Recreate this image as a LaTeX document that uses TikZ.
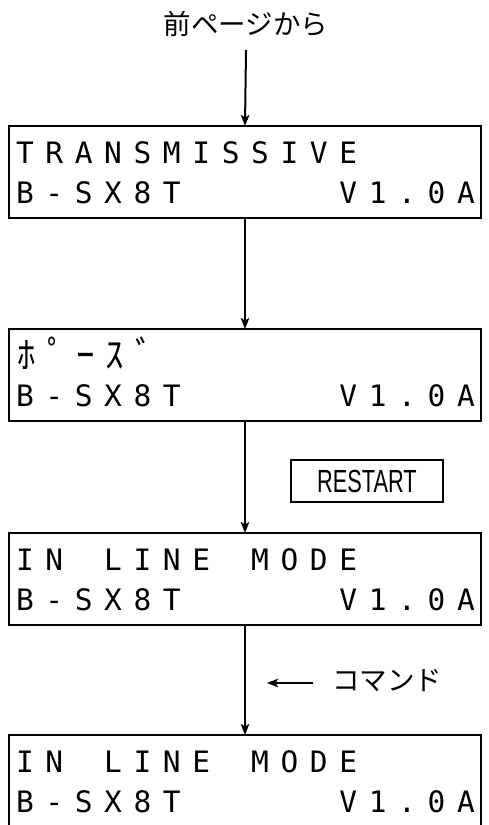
\documentclass[tikz,border=0pt]{standalone}
\usepackage{fontspec}
\newfontfamily\lcdfont{DejaVu Sans Mono}
\newfontfamily\jpfont{Noto Sans CJK JP}
\newfontfamily\condfont[FakeStretch=0.68]{Liberation Sans}
\usetikzlibrary{arrows.meta}
\newcommand\lcdrow[1]{\foreach \c in {#1}{\makebox[29.4pt]{\c}}}
\begin{document}
\begin{tikzpicture}[x=1pt,y=-1pt,
  lcdbox/.style={draw, line width=2.6pt, minimum width=472pt, minimum height=92pt, inner sep=0pt, outer sep=0pt},
  lcdtxt/.style={inner sep=0pt, anchor=base west, font=\lcdfont\fontsize{29.5}{30}\selectfont},
  kanatxt/.style={inner sep=0pt, anchor=base west, font=\jpfont\fontsize{37}{38}\selectfont},
  jplabel/.style={inner sep=0pt, font=\jpfont\fontsize{27.5}{30}\selectfont},
  keybox/.style={draw, line width=2.4pt, minimum width=152pt, minimum height=42pt, inner sep=0pt, font=\condfont\fontsize{32}{34}\selectfont},
  flow/.style={line width=2pt, -{Stealth[length=11pt,width=8.5pt,inset=2.5pt]}}]
\useasboundingbox (0,0) rectangle (488,825);
\clip (0,0) rectangle (488,825);

\node[jplabel] (prev) at (246,24) {前ページから};
\coordinate (start) at (246,50);

\node[lcdbox] (b1) at (245,172) {};
\node[lcdtxt] (b1a) at ([shift={(1,37)}]b1.north west) {\lcdrow{T,R,A,N,S,M,I,S,S,I,V,E}};
\node[lcdtxt] (b1b) at ([shift={(1,77)}]b1.north west) {\lcdrow{B,-,S,X,8,T,{},{},{},{},{},V,1,.,0,A}};

\node[lcdbox] (b2) at (245,375) {};
\node[kanatxt] (b2a) at ([shift={(3,39)}]b2.north west) {\lcdrow{ﾎ,ﾟ,ｰ,ｽ,ﾞ}};
\node[lcdtxt] (b2b) at ([shift={(1,77)}]b2.north west) {\lcdrow{B,-,S,X,8,T,{},{},{},{},{},V,1,.,0,A}};

\node[keybox] (restart) at (367,481) {RESTART};

\node[lcdbox] (b3) at (245,579) {};
\node[lcdtxt] (b3a) at ([shift={(1,37)}]b3.north west) {\lcdrow{I,N,{},L,I,N,E,{},M,O,D,E}};
\node[lcdtxt] (b3b) at ([shift={(1,77)}]b3.north west) {\lcdrow{B,-,S,X,8,T,{},{},{},{},{},V,1,.,0,A}};

\node[jplabel] (cmd) at (387,681) {コマンド};
\coordinate (cmdfrom) at (313,683);
\coordinate (cmdto) at (267,683);

\node[lcdbox] (b4) at (245,781) {};
\node[lcdtxt] (b4a) at ([shift={(1,37)}]b4.north west) {\lcdrow{I,N,{},L,I,N,E,{},M,O,D,E}};
\node[lcdtxt] (b4b) at ([shift={(1,77)}]b4.north west) {\lcdrow{B,-,S,X,8,T,{},{},{},{},{},V,1,.,0,A}};

\draw[flow] (start) -- (b1.north);
\draw[flow] (b1.south) -- (b2.north);
\draw[flow] (b2.south) -- (b3.north);
\draw[flow] (b3.south) -- (b4.north);
\draw[flow, line width=2.4pt] (cmdfrom) -- (cmdto);
\end{tikzpicture}
\end{document}
